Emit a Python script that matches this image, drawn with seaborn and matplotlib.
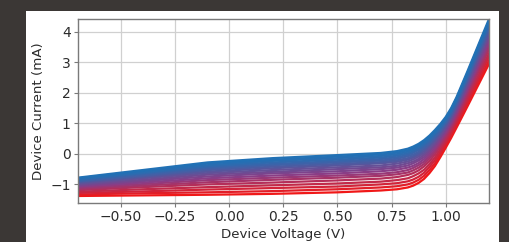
import matplotlib
matplotlib.use("Agg")
import matplotlib.pyplot as plt
from matplotlib.patches import Rectangle
import numpy as np
import pandas as pd
import seaborn as sns

# ---- data ----
voltage = [-0.7, -0.4, -0.1, 0.2, 0.5, 0.7, 0.775, 0.825, 0.85, 0.875, 0.9,
           0.925, 0.95, 0.975, 1.0, 1.025, 1.05, 1.1, 1.15, 1.2]

# device current (mA), one list per sweep, from the blue (first) to the red (last) curve
currents = [
    [-0.78, -0.53, -0.28, -0.14, -0.04, 0.03, 0.09, 0.17, 0.24, 0.33, 0.45, 0.60, 0.78, 0.98, 1.21, 1.50, 1.86, 2.70, 3.56, 4.42],
    [-0.80, -0.56, -0.32, -0.19, -0.09, -0.02, 0.04, 0.12, 0.19, 0.28, 0.40, 0.55, 0.73, 0.94, 1.17, 1.46, 1.82, 2.65, 3.51, 4.36],
    [-0.83, -0.60, -0.37, -0.23, -0.14, -0.07, -0.01, 0.07, 0.14, 0.23, 0.35, 0.50, 0.69, 0.89, 1.13, 1.42, 1.78, 2.61, 3.46, 4.30],
    [-0.85, -0.63, -0.41, -0.28, -0.19, -0.12, -0.06, 0.02, 0.09, 0.18, 0.30, 0.45, 0.64, 0.85, 1.09, 1.38, 1.74, 2.56, 3.40, 4.24],
    [-0.88, -0.66, -0.45, -0.33, -0.24, -0.17, -0.11, -0.03, 0.04, 0.13, 0.25, 0.40, 0.59, 0.81, 1.05, 1.34, 1.70, 2.52, 3.35, 4.19],
    [-0.90, -0.70, -0.49, -0.37, -0.28, -0.22, -0.16, -0.08, -0.02, 0.07, 0.20, 0.35, 0.54, 0.76, 1.01, 1.30, 1.66, 2.47, 3.30, 4.13],
    [-0.92, -0.73, -0.53, -0.42, -0.33, -0.27, -0.21, -0.14, -0.07, 0.02, 0.15, 0.31, 0.50, 0.72, 0.97, 1.27, 1.62, 2.42, 3.25, 4.07],
    [-0.95, -0.76, -0.58, -0.47, -0.38, -0.31, -0.26, -0.19, -0.12, -0.03, 0.09, 0.26, 0.45, 0.68, 0.93, 1.23, 1.58, 2.38, 3.19, 4.01],
    [-0.98, -0.80, -0.63, -0.53, -0.44, -0.38, -0.32, -0.25, -0.18, -0.09, 0.03, 0.19, 0.39, 0.62, 0.88, 1.18, 1.53, 2.32, 3.13, 3.94],
    [-1.01, -0.85, -0.68, -0.59, -0.50, -0.44, -0.39, -0.31, -0.25, -0.16, -0.03, 0.13, 0.33, 0.57, 0.83, 1.13, 1.48, 2.26, 3.06, 3.86],
    [-1.04, -0.89, -0.74, -0.64, -0.57, -0.50, -0.45, -0.38, -0.31, -0.22, -0.10, 0.07, 0.27, 0.51, 0.78, 1.08, 1.43, 2.21, 3.00, 3.79],
    [-1.07, -0.94, -0.80, -0.71, -0.64, -0.57, -0.52, -0.45, -0.39, -0.30, -0.17, 0.00, 0.20, 0.45, 0.72, 1.02, 1.37, 2.14, 2.92, 3.70],
    [-1.11, -0.99, -0.86, -0.78, -0.71, -0.65, -0.60, -0.53, -0.46, -0.37, -0.25, -0.08, 0.13, 0.38, 0.65, 0.96, 1.31, 2.07, 2.84, 3.61],
    [-1.15, -1.04, -0.93, -0.85, -0.78, -0.72, -0.67, -0.61, -0.54, -0.45, -0.33, -0.15, 0.06, 0.32, 0.59, 0.90, 1.25, 2.00, 2.76, 3.52],
    [-1.19, -1.09, -1.00, -0.94, -0.87, -0.81, -0.76, -0.69, -0.63, -0.54, -0.41, -0.24, -0.02, 0.24, 0.52, 0.83, 1.18, 1.92, 2.67, 3.42],
    [-1.24, -1.16, -1.09, -1.03, -0.97, -0.91, -0.86, -0.80, -0.73, -0.64, -0.52, -0.34, -0.12, 0.15, 0.44, 0.76, 1.10, 1.83, 2.56, 3.30],
    [-1.28, -1.23, -1.17, -1.12, -1.07, -1.00, -0.96, -0.90, -0.84, -0.75, -0.62, -0.43, -0.21, 0.06, 0.36, 0.68, 1.02, 1.73, 2.46, 3.19],
    [-1.33, -1.29, -1.26, -1.22, -1.16, -1.10, -1.06, -1.00, -0.94, -0.85, -0.72, -0.53, -0.31, -0.02, 0.28, 0.60, 0.94, 1.64, 2.36, 3.07],
    [-1.38, -1.36, -1.34, -1.31, -1.26, -1.20, -1.16, -1.10, -1.04, -0.95, -0.82, -0.63, -0.40, -0.11, 0.20, 0.52, 0.86, 1.55, 2.25, 2.95],
]

x_ticks = [-0.50, -0.25, 0.00, 0.25, 0.50, 0.75, 1.00]
y_ticks = [-1, 0, 1, 2, 3, 4]
x_label = "Device Voltage (V)"
y_label = "Device Current (mA)"

# ---- build long table ----
rows = []
for k, curve in enumerate(currents):
    for v, i in zip(voltage, curve):
        rows.append({"V": v, "I": i, "sweep": k})
df = pd.DataFrame(rows)

n = len(currents)
cmap = sns.blend_palette(["#2171b5", "#8a3d86", "#f01818"], as_cmap=True)
palette = {k: cmap((k / (n - 1)) ** 1.4) for k in range(n)}

plt.rcParams["font.family"] = ["DejaVu Sans"]

fig = plt.figure(figsize=(5.09, 2.42), dpi=100)
fig.patch.set_facecolor("#3b3735")
fig.add_artist(Rectangle((26 / 509, 0), 473 / 509, 231 / 242,
                         transform=fig.transFigure, facecolor="white",
                         edgecolor="none", zorder=0))

ax = fig.add_axes([77.7 / 509, 39.3 / 242, 411.3 / 509, 183.4 / 242])
ax.set_facecolor("white")

sns.lineplot(data=df, x="V", y="I", hue="sweep", palette=palette,
             hue_order=list(range(n))[::-1], legend=False, sort=False,
             estimator=None, linewidth=1.6, ax=ax)

ax.set_xlim(-0.7, 1.2)
ax.set_ylim(-1.6, 4.41)
ax.set_xticks(x_ticks)
ax.set_xticklabels([f"{t:.2f}".replace("-", "\u2212") for t in x_ticks])
ax.set_yticks(y_ticks)
ax.set_yticklabels([str(t).replace("-", "\u2212") for t in y_ticks])

ax.grid(True, color="#d0d0d0", linewidth=0.9)
ax.set_axisbelow(True)
for s in ax.spines.values():
    s.set_color("#7a7a7a")
    s.set_linewidth(1.0)
ax.tick_params(axis="both", labelsize=10, length=3, width=0.8, pad=2,
               color="#7a7a7a", labelcolor="#2b2b2b")

ax.set_xlabel(x_label, fontsize=9.6, color="#2b2b2b")
ax.set_ylabel(y_label, fontsize=9.6, color="#2b2b2b")
ax.xaxis.set_label_coords(0.5, -0.136)
ax.yaxis.set_label_coords(-0.0795, 0.5)

fig.savefig("out.png", dpi=100, facecolor=fig.get_facecolor())
